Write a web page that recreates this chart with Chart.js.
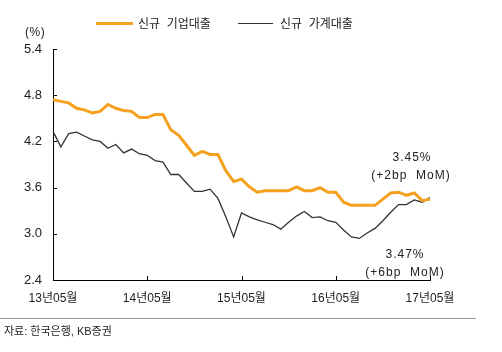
<!DOCTYPE html>
<html>
<head>
<meta charset="utf-8">
<script src="https://cdn.jsdelivr.net/npm/chart.js@4"></script>
<style>
  body { margin: 0; background: #fff; }
  #wrap { position: relative; width: 502px; height: 352px; overflow: hidden; font-family: 'Liberation Sans', 'Noto Sans CJK KR', sans-serif; color: #222; }
  #wrap canvas { position: absolute; left: 0; top: 0; }
  .txt { position: absolute; white-space: nowrap; font-size: 12px; line-height: 14px; }
  .leg-line { position: absolute; height: 0; }
  .note { position: absolute; white-space: nowrap; font-size: 12px; line-height: 14px; letter-spacing: 1px; transform: translateX(-50%); }
</style>
</head>
<body>
<div id="wrap">
  <canvas id="chart" width="502" height="352"></canvas>
  <div class="txt" style="left:25px; top:25px; font-size:12px; letter-spacing:0.5px;">(%)</div>
  <div class="leg-line" style="left:96px; top:22px; width:37px; border-top:3px solid #F5A01E;"></div>
  <div class="txt" style="left:138px; top:17px;">신규&nbsp; 기업대출</div>
  <div class="leg-line" style="left:238px; top:23px; width:35px; border-top:1px solid #333;"></div>
  <div class="txt" style="left:280px; top:17px;">신규&nbsp; 가계대출</div>
  <div class="note" style="left:412px; top:150px;">3.45%</div>
  <div class="note" style="left:411px; top:168px;">(+2bp&nbsp; MoM)</div>
  <div class="note" style="left:405px; top:247px;">3.47%</div>
  <div class="note" style="left:405px; top:265px;">(+6bp&nbsp; MoM)</div>
  <div style="position:absolute; left:0; top:318px; width:476px; border-top:1px solid #999;"></div>
  <div class="txt" style="left:4px; top:324px; font-size:11px;">자료: 한국은행, KB증권</div>
</div>
<script>
// months 2013.05 ~ 2017.05
const months = [];
for (let y = 13; y <= 17; y++) {
    for (let m = 1; m <= 12; m++) {
        if ((y === 13 && m < 5) || (y === 17 && m > 5)) continue;
        months.push(y + '.' + String(m).padStart(2, '0'));
    }
}
const tickLabels = ['13년05월', '14년05월', '15년05월', '16년05월', '17년05월'];

const corporate = [
    4.74, 4.72, 4.70, 4.63, 4.61, 4.57, 4.59, 4.68, 4.63, 4.60, 4.59, 4.51,
    4.51, 4.55, 4.55, 4.35, 4.28, 4.15, 4.02, 4.07, 4.03, 4.03, 3.82, 3.68,
    3.71, 3.61, 3.54, 3.56, 3.56, 3.56, 3.56, 3.61, 3.56, 3.56, 3.60, 3.54,
    3.54, 3.41, 3.37, 3.37, 3.37, 3.37, 3.45, 3.53, 3.54, 3.50, 3.53, 3.43,
    3.45
];
const household = [
    4.33, 4.13, 4.30, 4.32, 4.27, 4.22, 4.20, 4.11, 4.16, 4.05, 4.10, 4.04,
    4.02, 3.95, 3.93, 3.77, 3.77, 3.66, 3.55, 3.55, 3.58, 3.46, 3.22, 2.96,
    3.27, 3.22, 3.18, 3.15, 3.12, 3.06, 3.15, 3.23, 3.29, 3.21, 3.22, 3.17,
    3.15, 3.05, 2.96, 2.94, 3.01, 3.07, 3.17, 3.28, 3.38, 3.38, 3.44, 3.41,
    3.47
];

const fontFamily = "'Liberation Sans', 'Noto Sans CJK KR', sans-serif";

// small tick marks drawn inward from the axes
const innerTicks = {
    id: 'innerTicks',
    beforeDatasetsDraw(chart) {
        const { ctx, scales: { x, y }, chartArea } = chart;
        ctx.save();
        ctx.strokeStyle = '#000';
        ctx.lineWidth = 1;
        ctx.beginPath();
        y.ticks.forEach(t => {
            const py = Math.round(y.getPixelForValue(t.value)) + 0.5;
            ctx.moveTo(chartArea.left, py);
            ctx.lineTo(chartArea.left + 4, py);
        });
        months.forEach((m, i) => {
            if (i % 12 !== 0 || i === 0) return;
            const px = Math.round(x.getPixelForValue(i)) + 0.5;
            ctx.moveTo(px, chartArea.bottom);
            ctx.lineTo(px, chartArea.bottom - 4);
        });
        ctx.stroke();
        ctx.restore();
    }
};

new Chart(document.getElementById('chart'), {
    type: 'line',
    data: {
        labels: months,
        datasets: [
            {
                label: '신규 기업대출',
                data: corporate,
                borderColor: '#F5A01E',
                borderWidth: 3,
                pointRadius: 0,
                tension: 0
            },
            {
                label: '신규 가계대출',
                data: household,
                borderColor: '#333333',
                borderWidth: 1.3,
                pointRadius: 0,
                tension: 0
            }
        ]
    },
    options: {
        responsive: false,
        animation: false,
        layout: { padding: { left: 0, top: 49, right: 72, bottom: 42 } },
        scales: {
            x: {
                grid: { display: false, drawTicks: false },
                border: { display: true, color: '#000', width: 1 },
                afterFit(scale) { scale.height = 30; },
                ticks: {
                    autoSkip: false,
                    maxRotation: 0,
                    minRotation: 0,
                    padding: 11,
                    color: '#222',
                    font: { family: fontFamily, size: 12 },
                    callback: (val, i) => (i % 12 === 0 ? tickLabels[i / 12] : '')
                }
            },
            y: {
                min: 2.4,
                max: 5.4,
                grid: { display: false, drawTicks: false },
                border: { display: true, color: '#000', width: 1 },
                afterFit(scale) { scale.width = 53; },
                ticks: {
                    stepSize: 0.6,
                    padding: 11,
                    color: '#222',
                    font: { family: fontFamily, size: 13 },
                    callback: v => v.toFixed(1)
                }
            }
        },
        plugins: {
            legend: { display: false },
            tooltip: { enabled: false }
        }
    },
    plugins: [innerTicks]
});
</script>
</body>
</html>
